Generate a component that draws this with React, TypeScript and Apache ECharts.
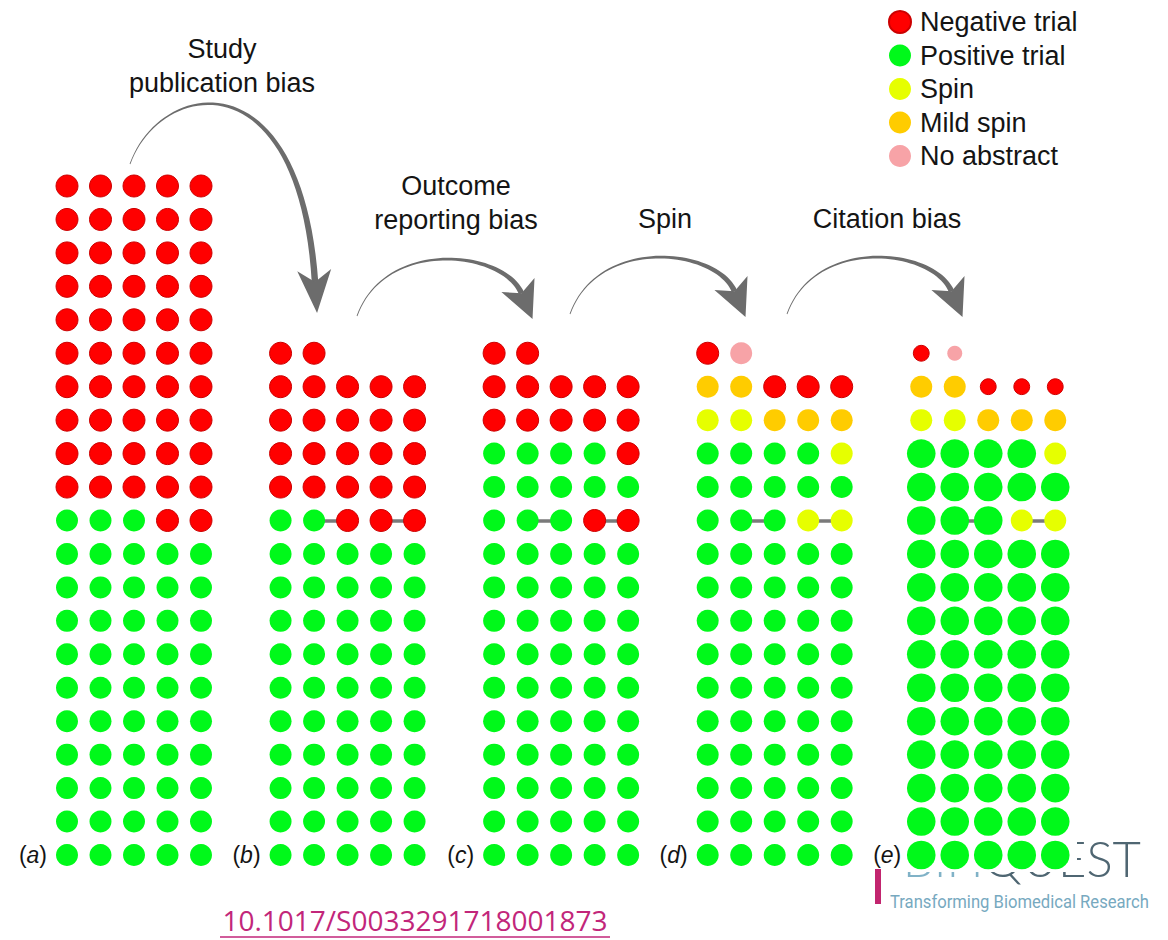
import React, { useEffect, useRef } from "react";
import * as echarts from "echarts";

// ---------- data ----------
const categories = ["Negative trial", "Positive trial", "Spin", "Mild spin", "No abstract"];
const categoryCodes = ["N", "P", "S", "M", "A"];
const categoryColors = ["#ff0000", "#00f91a", "#e6ff00", "#ffcc00", "#f7a3a7"];
const categoryBorders = ["#cc0000", "#00f91a", "#e6ff00", "#ffcc00", "#f7a3a7"];

const panelLabels = ["a", "b", "c", "d", "e"];

// rows top -> bottom, columns left -> right ("" = empty row)
const panelA = [
  "NNNNN", "NNNNN", "NNNNN", "NNNNN", "NNNNN", "NNNNN", "NNNNN",
  "NNNNN", "NNNNN", "NNNNN", "PPPNN", "PPPPP", "PPPPP", "PPPPP",
  "PPPPP", "PPPPP", "PPPPP", "PPPPP", "PPPPP", "PPPPP", "PPPPP",
];
const panelB = [
  "", "", "", "", "", "NN", "NNNNN",
  "NNNNN", "NNNNN", "NNNNN", "PPNNN", "PPPPP", "PPPPP", "PPPPP",
  "PPPPP", "PPPPP", "PPPPP", "PPPPP", "PPPPP", "PPPPP", "PPPPP",
];
const panelC = [
  "", "", "", "", "", "NN", "NNNNN",
  "NNNNN", "PPPPN", "PPPPP", "PPPNN", "PPPPP", "PPPPP", "PPPPP",
  "PPPPP", "PPPPP", "PPPPP", "PPPPP", "PPPPP", "PPPPP", "PPPPP",
];
const panelD = [
  "", "", "", "", "", "NA", "MMNNN",
  "SSMMM", "PPPPS", "PPPPP", "PPPSS", "PPPPP", "PPPPP", "PPPPP",
  "PPPPP", "PPPPP", "PPPPP", "PPPPP", "PPPPP", "PPPPP", "PPPPP",
];
const panelE = [
  "", "", "", "", "", "NA", "MMNNN",
  "SSMMM", "PPPPS", "PPPPP", "PPPSS", "PPPPP", "PPPPP", "PPPPP",
  "PPPPP", "PPPPP", "PPPPP", "PPPPP", "PPPPP", "PPPPP", "PPPPP",
];
const panels = [panelA, panelB, panelC, panelD, panelE];

// relative citation weight (dot size) per category, panel (e) only
const citationWeightE: Record<string, number> = { N: 0.72, A: 0.68, M: 1, S: 1, P: 1.3 };
const panelWeights: (Record<string, number> | null)[] = [null, null, null, null, citationWeightE];

// linked outcomes (same trial) : [panel, row, fromCol, toCol]
const connectorLinks = [
  [1, 10, 1, 2], [1, 10, 3, 4],
  [2, 10, 1, 2], [2, 10, 3, 4],
  [3, 10, 1, 2], [3, 10, 3, 4],
  [4, 10, 1, 2], [4, 10, 3, 4],
];

const stageTitles = [
  { lines: ["Study", "publication bias"], cx: 222, y: 49 },
  { lines: ["Outcome", "reporting bias"], cx: 456, y: 186 },
  { lines: ["Spin"], cx: 665, y: 219 },
  { lines: ["Citation bias"], cx: 887, y: 219 },
];

const doiText = "10.1017/S0033291718001873";

// ---------- layout ----------
const FONT = "'Liberation Sans', Arial, Helvetica, sans-serif";
const GRID_LEFT = 67;
const GRID_TOP = 186;
const COL_PX = 33.5;
const ROW_PX = 33.45;
const PANEL_STEP = 6.375; // in column units
const N_ROWS = 21;
const BASE_SIZE = 22;

const xOf = (p: number, c: number) => p * PANEL_STEP + c;

type Pt = [number, number];
function bez(p0: Pt, c1: Pt, c2: Pt, p3: Pt, t: number): Pt {
  const u = 1 - t;
  return [
    u * u * u * p0[0] + 3 * u * u * t * c1[0] + 3 * u * t * t * c2[0] + t * t * t * p3[0],
    u * u * u * p0[1] + 3 * u * u * t * c1[1] + 3 * u * t * t * c2[1] + t * t * t * p3[1],
  ];
}
function bezD(p0: Pt, c1: Pt, c2: Pt, p3: Pt, t: number): Pt {
  const u = 1 - t;
  return [
    3 * u * u * (c1[0] - p0[0]) + 6 * u * t * (c2[0] - c1[0]) + 3 * t * t * (p3[0] - c2[0]),
    3 * u * u * (c1[1] - p0[1]) + 6 * u * t * (c2[1] - c1[1]) + 3 * t * t * (p3[1] - c2[1]),
  ];
}
function arrowElements(
  p0: Pt, c1: Pt, c2: Pt, p3: Pt,
  w0: number, w1: number, headLen: number, headHalf: number, notch: number, color: string
) {
  const left: Pt[] = [];
  const right: Pt[] = [];
  const N = 48;
  for (let i = 0; i <= N; i++) {
    const t = i / N;
    const p = bez(p0, c1, c2, p3, t);
    const d = bezD(p0, c1, c2, p3, t);
    const len = Math.hypot(d[0], d[1]) || 1;
    const n: Pt = [-d[1] / len, d[0] / len];
    const hw = (w0 + (w1 - w0) * Math.pow(t, 1.4)) / 2;
    left.push([p[0] + n[0] * hw, p[1] + n[1] * hw]);
    right.push([p[0] - n[0] * hw, p[1] - n[1] * hw]);
  }
  const shaft = left.concat(right.reverse());
  const dEnd = bezD(p0, c1, c2, p3, 1);
  const l = Math.hypot(dEnd[0], dEnd[1]);
  const d: Pt = [dEnd[0] / l, dEnd[1] / l];
  const n: Pt = [-d[1], d[0]];
  const M: Pt = [p3[0] - d[0] * notch, p3[1] - d[1] * notch];
  const tip: Pt = [M[0] + d[0] * headLen, M[1] + d[1] * headLen];
  const bA: Pt = [M[0] + n[0] * headHalf, M[1] + n[1] * headHalf];
  const bB: Pt = [M[0] - n[0] * headHalf, M[1] - n[1] * headHalf];
  return [
    { type: "polygon", z: 5, silent: true, shape: { points: shaft }, style: { fill: color } },
    { type: "polygon", z: 5, silent: true, shape: { points: [bA, tip, bB, p3] }, style: { fill: color } },
  ];
}

function buildOption() {
  const series: any[] = [];
  categoryCodes.forEach((code, k) => {
    const data: any[] = [];
    panels.forEach((rows, p) => {
      rows.forEach((row, r) => {
        for (let c = 0; c < row.length; c++) {
          if (row[c] !== code) continue;
          const w = panelWeights[p] ? panelWeights[p]![code] : 1;
          data.push({ value: [xOf(p, c), r], symbolSize: BASE_SIZE * w });
        }
      });
    });
    series.push({
      name: categories[k],
      type: "scatter",
      symbol: "circle",
      clip: false,
      z: 3,
      silent: true,
      itemStyle: {
        color: categoryColors[k],
        borderColor: categoryBorders[k],
        borderWidth: code === "N" ? 1 : 0,
        opacity: 1,
      },
      data,
    });
  });

  series.push({
    type: "lines",
    coordinateSystem: "cartesian2d",
    z: 2,
    silent: true,
    lineStyle: { color: "#7a7a7a", width: 3.5, opacity: 1, curveness: 0 },
    data: connectorLinks.map(([p, r, a, b]) => ({
      coords: [[xOf(p, a), r], [xOf(p, b), r]],
    })),
  });

  const graphics: any[] = [];

  // logo (partly hidden behind the figure)
  const logoFont = { fontFamily: "Lato, 'Open Sans', sans-serif", fontWeight: 300, fontSize: 49 };
  graphics.push({
    type: "text", z: 0, silent: true, x: 1141, y: 858,
    style: {
      text: "{a|BIH}{b|QUEST}",
      textAlign: "right",
      textVerticalAlign: "middle",
      rich: {
        a: { ...logoFont, fill: "#80b2c7" },
        b: { ...logoFont, fill: "#4f6672" },
      },
    },
  });
  graphics.push({
    type: "rect", z: 1, silent: true,
    shape: { x: 862, y: 810, width: 215, height: 62 },
    style: { fill: "#ffffff" },
  });
  graphics.push({
    type: "rect", z: 1, silent: true,
    shape: { x: 875, y: 869, width: 6, height: 35 },
    style: { fill: "#c2256f" },
  });
  graphics.push({
    type: "text", z: 1, silent: true, x: 890, y: 901, scaleX: 0.875, originX: 0,
    style: { text: "Transforming Biomedical Research", font: `19px Roboto, 'Noto Sans', sans-serif`, fill: "#77a9bf", textAlign: "left", textVerticalAlign: "middle" },
  });

  // DOI
  graphics.push({
    type: "text", z: 5, silent: true, x: 415, y: 920,
    style: { text: doiText, font: `28px 'Open Sans', 'Noto Sans', sans-serif`, fill: "#c2267a", textAlign: "center", textVerticalAlign: "middle" },
  });
  graphics.push({
    type: "line", z: 5, silent: true,
    shape: { x1: 220, y1: 937, x2: 610, y2: 937 },
    style: { stroke: "#c2267a", lineWidth: 1.5 },
  });

  // stage titles
  stageTitles.forEach((t) => {
    t.lines.forEach((line, i) => {
      graphics.push({
        type: "text", z: 5, silent: true, x: t.cx, y: t.y + i * 33.5,
        style: { text: line, font: `27px ${FONT}`, fill: "#141414", textAlign: "center", textVerticalAlign: "middle" },
      });
    });
  });

  // panel labels
  panelLabels.forEach((lab, p) => {
    graphics.push({
      type: "text", z: 5, silent: true,
      x: GRID_LEFT + COL_PX * xOf(p, 0) - 20,
      y: GRID_TOP + (N_ROWS - 1) * ROW_PX,
      style: {
        text: `{n|(}{i|${lab}}{n|)}`,
        textAlign: "right",
        textVerticalAlign: "middle",
        rich: {
          n: { fontFamily: FONT, fontSize: 23, fill: "#141414" },
          i: { fontFamily: FONT, fontSize: 23, fontStyle: "italic", fill: "#141414" },
        },
      },
    });
  });

  // arrows
  const arrowColor = "#6c6c6c";
  graphics.push(...arrowElements([130, 164], [160, 80], [300, 55], [315, 282], 0.8, 6.5, 43, 17, 12, arrowColor));
  [[357, 316], [570, 314], [787, 314]].forEach(([sx, sy]) => {
    graphics.push(
      ...arrowElements(
        [sx, sy], [sx + 28, sy - 78], [sx + 146, sy - 66], [sx + 164.5, sy - 22.7],
        0.8, 5.5, 37, 18, 9, arrowColor
      )
    );
  });

  return {
    animation: false,
    backgroundColor: "#ffffff",
    grid: {
      left: GRID_LEFT,
      top: GRID_TOP,
      width: COL_PX * (4 * PANEL_STEP + 4),
      height: ROW_PX * (N_ROWS - 1),
      containLabel: false,
    },
    xAxis: { type: "value", min: 0, max: 4 * PANEL_STEP + 4, show: false },
    yAxis: { type: "value", min: 0, max: N_ROWS - 1, inverse: true, show: false },
    legend: {
      orient: "vertical",
      left: 883,
      top: 3.5,
      itemWidth: 22,
      itemHeight: 22,
      itemGap: 6.5,
      icon: "circle",
      selectedMode: false,
      data: categories,
      textStyle: { fontFamily: FONT, fontSize: 27, color: "#141414", lineHeight: 22, padding: [0, 0, 0, 4] },
    },
    graphic: { elements: graphics },
    series,
  };
}

export default function App() {
  const ref = useRef<HTMLDivElement>(null);
  useEffect(() => {
    if (!ref.current) return;
    const chart = echarts.init(ref.current, undefined, { renderer: "svg" });
    chart.setOption(buildOption() as any);
    return () => chart.dispose();
  }, []);
  return (
    <div
      ref={ref}
      style={{ position: "absolute", left: 0, top: 0, width: 1168, height: 940, background: "#ffffff" }}
    />
  );
}
